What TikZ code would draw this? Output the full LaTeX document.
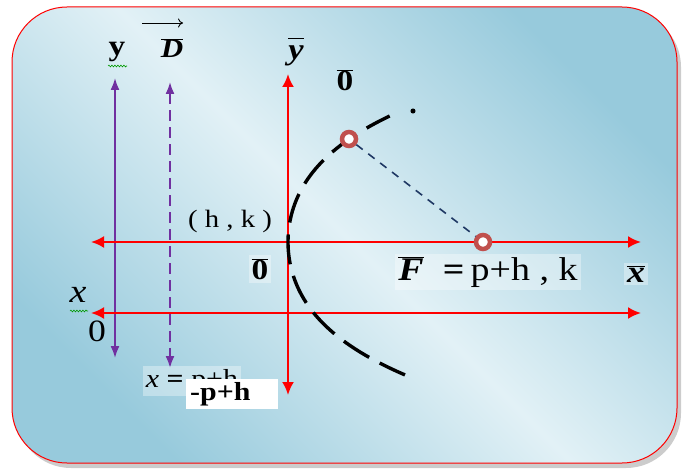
\documentclass[tikz,border=0pt]{standalone}
\usepackage{graphicx}
\usepackage{fontspec}
\setmainfont{Liberation Serif}
\usetikzlibrary{arrows.meta, decorations.pathmorphing}

\definecolor{axispurple}{HTML}{7030A0}
\definecolor{ringred}{HTML}{C0504D}
\definecolor{focusnavy}{HTML}{1F3864}
\definecolor{paneldark}{HTML}{97CADC}
\definecolor{panellight}{HTML}{E2F1F6}

\newcommand{\wide}[1]{\scalebox{1.15}[1]{#1}}
\newcommand{\olbox}[1]{$\overline{\hbox{#1}}$}
\newcommand{\fsz}[1]{\fontsize{#1}{#1}\selectfont}

\begin{document}
\begin{tikzpicture}[x=1pt, y=-1pt,
		lbl/.style={inner sep=1pt},
		softbox/.style={fill=white, fill opacity=0.35, text opacity=1, inner sep=3pt},
		redaxis/.style={draw=red, line width=2.2pt, {Latex[length=13pt,width=12pt]}-{Latex[length=13pt,width=12pt]}},
		purpleaxis/.style={draw=axispurple, line width=1.8pt, {Latex[length=12pt,width=9pt]}-{Latex[length=12pt,width=9pt]}},
		parab/.style={draw=black, line width=3.4pt, dash pattern=on 30pt off 12pt},
		ring/.style={circle, draw=ringred, line width=4.5pt, fill=white, inner sep=0pt, minimum size=14pt},
		wavy/.style={draw=green!60!black, line width=0.6pt, decorate, decoration={snake, amplitude=0.9pt, segment length=3pt}}]
	\useasboundingbox (0,0) rectangle (684,473);
	% frame
	\fill[gray!40, rounded corners=55pt] (16,12) rectangle (681,468);
	\shadedraw[draw=red, line width=1pt, rounded corners=55pt, top color=paneldark, bottom color=paneldark, middle color=panellight, shading angle=-45] (12,7) rectangle (677,463);

	% axes
	\coordinate (yTop) at (115,78);
	\coordinate (yBot) at (115,358);
	\coordinate (dTop) at (170,82);
	\coordinate (dBot) at (170,368);
	\coordinate (ybTop) at (288,74);
	\coordinate (ybBot) at (288,395);
	\coordinate (xbL) at (91,242);
	\coordinate (xbR) at (641,242);
	\coordinate (xL) at (91,313);
	\coordinate (xR) at (641,313);
	\draw[purpleaxis] (yTop) -- (yBot);
	\draw[purpleaxis, dash pattern=on 11pt off 6pt] (dTop) -- (dBot);
	\draw[redaxis] (ybTop) -- (ybBot);
	\draw[redaxis] (xbL) -- (xbR);
	\draw[redaxis] (xL) -- (xR);

	% parabola
	\draw[parab, dash phase=4pt] plot[domain=-1.26:1.33, samples=80] ({288+45*(\x)^2+12*(\x)^4},{242+100*(\x)});
	\node[circle, fill=black, inner sep=1.8pt] (tip) at (413,111) {};
	\node[ring] (P) at (349,139) {};
	\node[ring] (F) at (483,242) {};
	\draw[focusnavy, line width=1.6pt, dash pattern=on 8pt off 7pt] (P) -- (F);

	% labels
	\node[lbl, font=\fsz{29pt}] (ylbl) at (117,52) {\wide{\textbf{y}}};
	\draw[wavy] (108,66) -- (127,66);
	\node[lbl, font=\fsz{27pt}] (Dlbl) at (172,48) {\wide{\olbox{\textbf{\textit{D}}}}};
	\coordinate (DarrL) at (142,23);
	\coordinate (DarrR) at (183,23);
	\draw[line width=0.9pt, -{To[length=5pt,width=9pt]}] (DarrL) -- (DarrR);
	\node[lbl, font=\fsz{30pt}] (yblbl) at (296,52) {\wide{\olbox{\textbf{\textit{y}}\rule{0pt}{0.66em}}}};
	\node[lbl, font=\fsz{29pt}] (Otop) at (345,80) {\wide{\olbox{\textbf{0}}}};
	\node[lbl, font=\fsz{25pt}] (hk) at (230,221) {\wide{( h , k )}};
	\node[softbox, font=\fsz{29pt}] (Omid) at (260,269) {\wide{\olbox{\textbf{0}}}};
	\node[softbox, font=\fsz{33pt}] (Flbl) at (488,272) {\wide{\olbox{\textbf{\textit{F}}}\enspace\textbf{=}\,p+h , k}};
	\node[softbox, font=\fsz{31pt}] (xblbl) at (636,274) {\wide{\olbox{\textbf{\textit{x}}}}};
	\node[lbl, font=\fsz{33pt}] (xlbl) at (78,295) {\wide{\textit{x}}};
	\draw[wavy] (70,311) -- (88,311);
	\node[lbl, font=\fsz{31pt}] (Olbl) at (97,331) {\wide{0}};
	\node[softbox, font=\fsz{26pt}] (dirlbl) at (192,381) {\wide{\textit{x} \textbf{=} p+h}};
	\node[fill=white, anchor=west, text width=84pt, align=left, inner xsep=4pt, minimum height=29pt, font=\fsz{26pt}] (dirbox) at (186,394) {\wide{\textbf{-p+h}}};
\end{tikzpicture}
\end{document}
